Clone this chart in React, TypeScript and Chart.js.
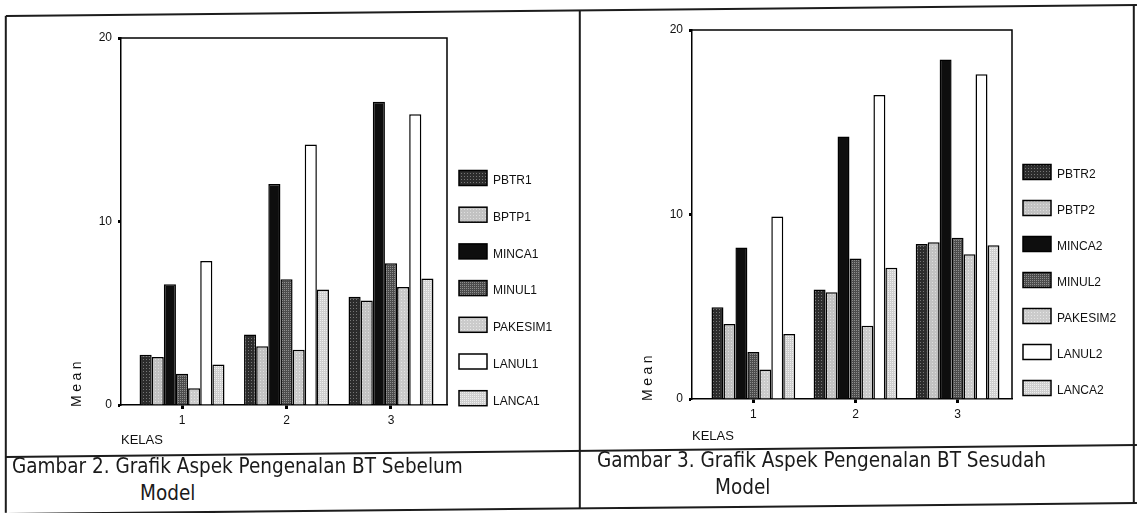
import React, { useEffect, useRef } from 'react';
import { Chart, registerables } from 'chart.js';

Chart.register(...registerables);

// ---- data ----
const categories = ['1', '2', '3'];
const yTicks = [0, 10, 20];

const namesBefore = ['PBTR1', 'BPTP1', 'MINCA1', 'MINUL1', 'PAKESIM1', 'LANUL1', 'LANCA1'];
const pbtr1 = [2.74, 3.84, 5.9];
const bptp1 = [2.61, 3.2, 5.7];
const minca1 = [6.58, 12.05, 16.53];
const minul1 = [1.7, 6.85, 7.73];
const pakesim1 = [0.91, 3.01, 6.43];
const lanul1 = [7.85, 14.19, 15.85];
const lanca1 = [2.21, 6.3, 6.89];

const namesAfter = ['PBTR2', 'PBTP2', 'MINCA2', 'MINUL2', 'PAKESIM2', 'LANUL2', 'LANCA2'];
const pbtr2 = [4.97, 5.94, 8.4];
const pbtp2 = [4.06, 5.79, 8.49];
const minca2 = [8.21, 14.23, 18.4];
const minul2 = [2.55, 7.61, 8.74];
const pakesim2 = [1.6, 3.97, 7.85];
const lanul2 = [9.89, 16.48, 17.6];
const lanca2 = [3.52, 7.12, 8.34];

const seriesBefore = [pbtr1, bptp1, minca1, minul1, pakesim1, lanul1, lanca1];
const seriesAfter = [pbtr2, pbtp2, minca2, minul2, pakesim2, lanul2, lanca2];

// ---- fills ----
function makePattern(bg: string, dot: string, size: number): CanvasPattern | string {
  const c = document.createElement('canvas');
  c.width = size;
  c.height = size;
  const x = c.getContext('2d');
  if (!x) return bg;
  x.fillStyle = bg;
  x.fillRect(0, 0, size, size);
  x.fillStyle = dot;
  x.fillRect(0, 0, 1, 1);
  return x.createPattern(c, 'repeat') || bg;
}

function makeFills() {
  return [
    makePattern('#2c2c2c', '#767676', 3),
    makePattern('#c2c2c2', '#dedede', 3),
    '#0e0e0e',
    makePattern('#4c4c4c', '#8e8e8e', 2),
    makePattern('#cbcbcb', '#e6e6e6', 3),
    '#ffffff',
    makePattern('#cfcfcf', '#efefef', 2),
  ];
}

const FONT = "'Liberation Sans', Arial, Helvetica, sans-serif";

const frameLegendPlugin = {
  id: 'frameLegend',
  afterDraw(chart: any, _args: any, opts: any) {
    const { ctx, chartArea: a } = chart;
    ctx.save();
    ctx.strokeStyle = '#000';
    ctx.lineWidth = 1.5;
    ctx.beginPath();
    ctx.moveTo(a.left, a.top);
    ctx.lineTo(a.right, a.top);
    ctx.lineTo(a.right, a.bottom);
    ctx.stroke();
    ctx.restore();

    // y title with letter spacing
    ctx.save();
    ctx.font = `14px ${FONT}`;
    ctx.fillStyle = '#111';
    (ctx as any).letterSpacing = '3.5px';
    ctx.translate(a.left - 44, a.bottom + 2);
    ctx.rotate(-Math.PI / 2);
    ctx.textAlign = 'left';
    ctx.textBaseline = 'middle';
    ctx.fillText(opts.yTitle, 0, 0);
    ctx.restore();

    // legend
    ctx.save();
    ctx.font = `12px ${FONT}`;
    ctx.textAlign = 'left';
    ctx.textBaseline = 'middle';
    chart.data.datasets.forEach((ds: any, i: number) => {
      const cy = a.top + opts.legendTop + i * opts.legendStep;
      const x0 = a.right + opts.legendLeft;
      ctx.fillStyle = ds.backgroundColor;
      ctx.fillRect(x0, cy - 7.5, 28, 15);
      ctx.strokeStyle = '#000';
      ctx.lineWidth = 1.5;
      ctx.strokeRect(x0, cy - 7.5, 28, 15);
      ctx.fillStyle = '#111';
      ctx.fillText(ds.label, x0 + 34, cy + 3);
    });
    ctx.restore();
  },
};

type PanelProps = {
  names: string[];
  series: number[][];
  left: number;
  top: number;
  width: number;
  height: number;
  yAxisWidth: number;
  xAxisHeight: number;
  padTop: number;
  padRight: number;
  xMin: number;
  xMax: number;
  catPct: number;
  legendTop: number;
  legendStep: number;
  legendLeft: number;
};

function BarPanel(p: PanelProps) {
  const ref = useRef<HTMLCanvasElement | null>(null);
  useEffect(() => {
    let chart: Chart | null = null;
    let cancelled = false;
    const build = () => {
      if (cancelled || !ref.current) return;
      const fills = makeFills();
      chart = new Chart(ref.current, {
        type: 'bar',
        data: {
          datasets: p.series.map((vals, si) => ({
            label: p.names[si],
            data: vals.map((v, i) => ({ x: i + 1, y: v })),
            backgroundColor: fills[si] as any,
            borderColor: '#000',
            borderWidth: 1.5,
            borderSkipped: 'bottom',
            barPercentage: 1,
            categoryPercentage: p.catPct,
          })),
        },
        options: {
          responsive: false,
          animation: false,
          events: [],
          layout: { padding: { top: p.padTop, right: p.padRight, left: 0, bottom: 0 } },
          plugins: {
            legend: { display: false },
            tooltip: { enabled: false },
            frameLegend: {
              yTitle: 'Mean',
              legendTop: p.legendTop,
              legendStep: p.legendStep,
              legendLeft: p.legendLeft,
            },
          } as any,
          scales: {
            x: {
              type: 'linear',
              offset: false,
              min: p.xMin,
              max: p.xMax,
              afterBuildTicks: (s: any) => {
                s.ticks = categories.map((_, i) => ({ value: i + 1 }));
              },
              afterFit: (s: any) => {
                s.height = p.xAxisHeight;
              },
              ticks: {
                callback: (v: any) => categories[Number(v) - 1] ?? '',
                font: { family: FONT, size: 12 },
                color: '#111',
                padding: 4,
                maxRotation: 0,
              },
              grid: {
                offset: false,
                drawOnChartArea: false,
                drawTicks: true,
                tickLength: 4,
                tickWidth: 3,
                color: '#000',
              },
              border: { display: true, color: '#000', width: 1.5 },
              title: {
                display: true,
                text: 'KELAS',
                align: 'start',
                color: '#111',
                font: { family: FONT, size: 13 },
                padding: { top: 0, bottom: 4 },
              },
            },
            y: {
              type: 'linear',
              min: yTicks[0],
              max: yTicks[yTicks.length - 1],
              afterBuildTicks: (s: any) => {
                s.ticks = yTicks.map((v) => ({ value: v }));
              },
              afterFit: (s: any) => {
                s.width = p.yAxisWidth;
              },
              ticks: {
                font: { family: FONT, size: 12 },
                color: '#111',
                padding: 6,
              },
              grid: {
                drawOnChartArea: false,
                drawTicks: true,
                tickLength: 3,
                tickWidth: 3,
                color: '#000',
              },
              border: { display: true, color: '#000', width: 1.5 },
            },
          },
        },
        plugins: [frameLegendPlugin as any],
      });
    };
    const fontsApi = (document as any).fonts;
    if (fontsApi && fontsApi.load) {
      Promise.all([
        fontsApi.load(`12px ${FONT}`),
        fontsApi.load(`14px ${FONT}`),
      ])
        .catch(() => null)
        .then(build);
    } else {
      build();
    }
    return () => {
      cancelled = true;
      if (chart) chart.destroy();
    };
  }, []);
  return (
    <canvas
      ref={ref}
      width={p.width}
      height={p.height}
      style={{ position: 'absolute', left: p.left, top: p.top, width: p.width, height: p.height }}
    />
  );
}

// a straight (possibly slightly tilted, as in the scan) table rule from (x1,y1) to (x2,y2)
const rule = (x1: number, y1: number, x2: number, y2: number, w: number) => {
  const len = Math.hypot(x2 - x1, y2 - y1);
  const ang = (Math.atan2(y2 - y1, x2 - x1) * 180) / Math.PI;
  return (
    <div
      style={{
        position: 'absolute',
        left: x1,
        top: y1 - w / 2,
        width: len,
        height: w,
        background: '#1c1c1c',
        transformOrigin: '0 50%',
        transform: `rotate(${ang}deg)`,
      }}
    />
  );
};

const captionStyle: React.CSSProperties = {
  position: 'absolute',
  fontFamily: '"DejaVu Sans Condensed", "DejaVu Sans", sans-serif',
  fontStretch: 'condensed',
  fontSize: 20.5,
  color: '#1a1a1a',
  whiteSpace: 'nowrap',
  lineHeight: '22px',
};

export default function App() {
  return (
    <div
      style={{
        position: 'absolute',
        left: 0,
        top: 0,
        width: 1137,
        height: 513,
        background: '#fff',
        overflow: 'hidden',
      }}
    >
      <BarPanel
        names={namesBefore}
        series={seriesBefore}
        left={20}
        top={20}
        width={555}
        height={432}
        yAxisWidth={101}
        xAxisHeight={47}
        padTop={18}
        padRight={128}
        xMin={0.416}
        xMax={3.536}
        catPct={0.813}
        legendTop={140}
        legendStep={36.7}
        legendLeft={12}
      />
      <BarPanel
        names={namesAfter}
        series={seriesAfter}
        left={590}
        top={12}
        width={545}
        height={436}
        yAxisWidth={102}
        xAxisHeight={49}
        padTop={18}
        padRight={123}
        xMin={0.399}
        xMax={3.533}
        catPct={0.82}
        legendTop={142}
        legendStep={36}
        legendLeft={11}
      />
      {rule(6, 16, 1137, 5, 2)}
      {rule(6, 457, 1137, 445, 1.6)}
      {rule(6, 514, 1137, 503, 2)}
      {rule(6, 16, 6, 513, 1.6)}
      {rule(580, 11, 580, 509, 1.6)}
      {rule(1134, 5, 1134, 503, 1.6)}
      <div style={{ ...captionStyle, left: 12, top: 455 }}>Gambar 2. Grafik Aspek Pengenalan BT Sebelum</div>
      <div style={{ ...captionStyle, left: 140, top: 482 }}>Model</div>
      <div style={{ ...captionStyle, left: 597, top: 449 }}>Gambar 3. Grafik Aspek Pengenalan BT Sesudah</div>
      <div style={{ ...captionStyle, left: 715, top: 476 }}>Model</div>
    </div>
  );
}
